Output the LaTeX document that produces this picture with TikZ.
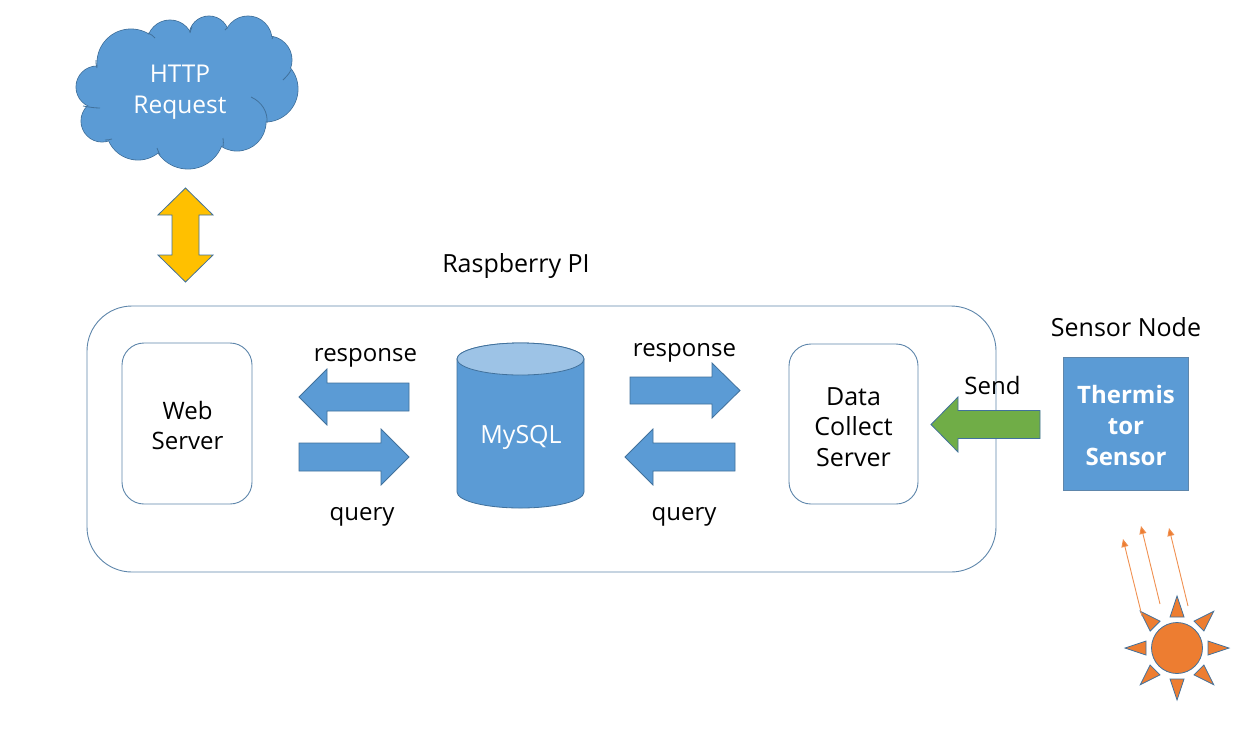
\documentclass[tikz,border=0pt]{standalone}
\usepackage{fontspec}
\setmainfont{Open Sans}
\usetikzlibrary{arrows.meta}
\definecolor{fillblue}{HTML}{5B9BD5}
\definecolor{lineblue}{HTML}{41719C}
\definecolor{topblue}{HTML}{9DC3E6}
\definecolor{sunorange}{HTML}{ED7D31}
\definecolor{arrowyellow}{HTML}{FFC000}
\definecolor{arrowgreen}{HTML}{70AD47}
\tikzset{
  outlinebox/.style={draw=lineblue!85!white,line width=0.9pt,fill=white},
  blockarrow/.style={draw=lineblue,line width=0.8pt,fill=fillblue},
  lab/.style={font=\fontsize{25}{30.5}\selectfont,text=black,align=center,inner sep=0pt},
  labsmall/.style={font=\fontsize{24}{30}\selectfont,text=black,align=center,inner sep=0pt},
  whitelab/.style={font=\fontsize{24.5}{31}\selectfont,text=white,align=center,inner sep=0pt},
  boldlab/.style={font=\fontsize{24}{31}\selectfont\bfseries,text=white,align=center,inner sep=0pt},
  lightray/.style={draw=sunorange!85!white,line width=0.9pt,-{Triangle[length=8pt,width=7pt,fill=sunorange]}},
}
\newcommand{\blockarr}[7][blockarrow]{%
  \draw[#1] (#2,#5-#6) -- (#4,#5-#6) -- (#4,#5-#7) -- (#3,#5) -- (#4,#5+#7) -- (#4,#5+#6) -- (#2,#5+#6) -- cycle;}
\begin{document}
\begin{tikzpicture}[x=1pt,y=-1pt]
\useasboundingbox (0,0) rectangle (1257,732);
% cloud
\begin{scope}[draw=lineblue,line width=0.8pt]
  \foreach \cx/\cy/\r in {97/87/21,102/121/21,131/63/34,170/43/23,209/36/20,248/40/24,268/60/24,265/89/33,237/122/29,188/133/36,138/128/32}
    \draw[fill=fillblue] (\cx,\cy) circle (\r);
  \foreach \cx/\cy/\r in {97/87/21,102/121/21,131/63/34,170/43/23,209/36/20,248/40/24,268/60/24,265/89/33,237/122/29,188/133/36,138/128/32}
    \fill[fillblue] (\cx,\cy) circle (\r-0.5);
  \fill[fillblue] (125,50) -- (170,35) -- (190,36) -- (208,30) -- (227,31) -- (248,30) -- (275,60) -- (283,90) -- (262,115) -- (240,135) -- (190,155) -- (110,140) -- (100,100) -- cycle;
  \draw (251,97) .. controls (262,102) and (268,112) .. (267,123);
  \draw (96,60) .. controls (96,63) and (96,65) .. (97,68);
  \draw (83,106) .. controls (89,107) and (94,108) .. (100,108);
  \draw (105,140) .. controls (108,140) and (110,139.5) .. (112,139);
  \draw (157,148) .. controls (158,151) and (159,153) .. (160,155);
  \draw (223,138) .. controls (223.5,141) and (223.5,144) .. (223,147);
  \draw (283,80) .. controls (286,77) and (289,74) .. (291,70);
  \draw (273,37) -- (272,39);
  \draw (227,28) -- (225,30);
  \draw (190,33) .. controls (190.5,31) and (191,29) .. (192,27);
  \draw (148,33) .. controls (151,34) and (153,36) .. (155,38);
\end{scope}
\node[whitelab] (cloudtext) at (180,92.5) {HTTP\\Request};
% yellow double arrow
\draw[blockarrow,fill=arrowyellow] (185.5,188) -- (213,215) -- (199,215) -- (199,255) -- (213,255) -- (185.5,282) -- (158,255) -- (172,255) -- (172,215) -- (158,215) -- cycle;
% Raspberry Pi
\node[lab] (pilabel) at (516,266) {Raspberry PI};
\draw[outlinebox] (87,306) [rounded corners=45pt] rectangle (996,572);
\node[outlinebox,rounded corners=22pt,minimum width=130pt,minimum height=161pt,inner sep=0pt] (web) at (187,423.5) {};
\node[labsmall] (webtext) at (187.5,425.5) {Web\\Server};
\node[outlinebox,rounded corners=22pt,minimum width=129pt,minimum height=160pt,inner sep=0pt] (data) at (853.5,424) {};
\node[lab] (datatext) at (853.5,427) {Data\\Collect\\Server};
% cylinder
\draw[blockarrow] (457,359) -- (457,492) arc[start angle=180,end angle=0,x radius=63.5,y radius=16] -- (584,359) arc[start angle=0,end angle=-180,x radius=63.5,y radius=16] -- cycle;
\draw[blockarrow,fill=topblue] (520.5,359) ellipse [x radius=63.5,y radius=16];
\node[lab,text=white] (mysql) at (521,437) {MySQL};
% block arrows
\blockarr{409}{299}{327}{397}{14}{28}
\blockarr{299}{409}{381}{457}{14}{28}
\blockarr{630}{740}{712}{390.5}{13.5}{27.5}
\blockarr{735}{625}{653}{457}{14}{28}
\blockarr[blockarrow,fill=arrowgreen]{1040}{931}{958}{424.5}{14}{27.5}
\node[labsmall] (resp1) at (365.5,358) {response};
\node[labsmall] (query1) at (362,517) {query};
\node[labsmall] (resp2) at (684.5,353) {response};
\node[labsmall] (query2) at (684,517) {query};
\node[labsmall] (send) at (992.5,385) {Send};
% sensor
\node[lab] (sensorlabel) at (1126,327) {Sensor Node};
\node[draw=lineblue!85!white,line width=0.8pt,fill=fillblue,minimum width=125pt,minimum height=133pt,inner sep=0pt] (sensor) at (1125.5,423.5) {};
\node[boldlab] (sensortext) at (1126,425.5) {Thermis\\tor\\Sensor};
% sun
\coordinate (suncentre) at (1177,648);
\foreach \a in {0,45,...,315}
  \draw[blockarrow,fill=sunorange,line join=miter,rotate around={\a:(suncentre)}] (1177,596) -- (1184,617) -- (1170,617) -- cycle;
\draw[blockarrow,fill=sunorange] (suncentre) circle (25.5);
% rays
\coordinate (r1a) at (1142,616); \coordinate (r1b) at (1123,539);
\coordinate (r2a) at (1160,604); \coordinate (r2b) at (1141,526);
\coordinate (r3a) at (1188,606); \coordinate (r3b) at (1169,528);
\draw[lightray] (r1a) -- (r1b);
\draw[lightray] (r2a) -- (r2b);
\draw[lightray] (r3a) -- (r3b);
\end{tikzpicture}
\end{document}
